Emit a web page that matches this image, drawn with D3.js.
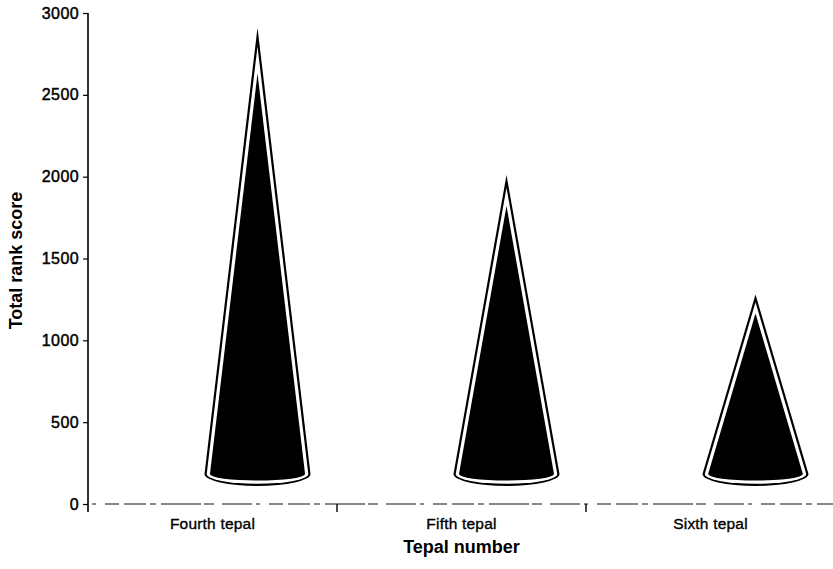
<!DOCTYPE html>
<html>
<head>
<meta charset="utf-8">
<script src="https://cdn.jsdelivr.net/npm/d3@7"></script>
<style>
  html, body { margin: 0; padding: 0; background: #fff; }
  svg { display: block; }
  text { font-family: "Liberation Sans", Arial, sans-serif; fill: #000; }
</style>
</head>
<body>
<svg id="chart" width="833" height="569"></svg>
<script>
// Total rank score for each tepal position
const categories = ["Fourth tepal", "Fifth tepal", "Sixth tepal"];
const totalRankScore = [2910, 2010, 1280];
const yTickValues = [0, 500, 1000, 1500, 2000, 2500, 3000];
const xTitle = "Tepal number";
const yTitle = "Total rank score";

const svg = d3.select("#chart");
const plot = { left: 88, right: 835, top: 13, bottom: 504 };

const x = d3.scaleBand().domain(categories).range([plot.left, plot.right]).padding(0);
const y = d3.scaleLinear().domain([0, 3000]).range([plot.bottom, plot.top]);

// 3D depth shift of the cone floor (up and to the right)
const depthDx = 45, depthDy = -30;
const baseRx = 53, baseRy = 12;

// Y axis
const yAxis = d3.axisLeft(y).tickValues(yTickValues).tickFormat(d3.format("d"))
  .tickSize(5).tickPadding(4).tickSizeOuter(0);
const gy = svg.append("g").attr("transform", `translate(${plot.left},0)`).call(yAxis);
gy.select(".domain").remove();
gy.selectAll("line").attr("stroke", "#000").attr("stroke-width", 1.2);
gy.selectAll("text")
  .attr("font-size", 16).attr("letter-spacing", "0.4px")
  .attr("stroke", "#000").attr("stroke-width", 0.45);
svg.append("line")
  .attr("x1", plot.left).attr("x2", plot.left)
  .attr("y1", plot.top).attr("y2", plot.bottom + 8)
  .attr("stroke", "#000").attr("stroke-width", 1.6);

// X axis (baseline plus category boundary ticks)
svg.append("line")
  .attr("x1", plot.left + 4).attr("x2", plot.right)
  .attr("y1", plot.bottom).attr("y2", plot.bottom)
  .attr("stroke", "#111").attr("stroke-width", 1.1)
  .attr("stroke-dasharray", "4,9,14,5,22,4,6,5,40,3,10,8,30,4");
const boundaries = categories.slice(1).map(c => x(c));
svg.selectAll(".xb").data(boundaries).enter().append("line")
  .attr("x1", d => d).attr("x2", d => d)
  .attr("y1", plot.bottom).attr("y2", plot.bottom + 8)
  .attr("stroke", "#000").attr("stroke-width", 1.4);

svg.selectAll(".xl").data(categories).enter().append("text")
  .attr("x", d => x(d) + x.bandwidth() / 2)
  .attr("y", plot.bottom + 25)
  .attr("text-anchor", "middle")
  .attr("font-size", 15.5)
  .attr("letter-spacing", "0.2px")
  .attr("stroke", "#000").attr("stroke-width", 0.35)
  .text(d => d);

// Axis titles
svg.append("text")
  .attr("x", (plot.left + plot.right) / 2)
  .attr("y", plot.bottom + 49)
  .attr("text-anchor", "middle")
  .attr("font-size", 18).attr("font-weight", "bold")
  .text(xTitle);
svg.append("text")
  .attr("transform", `translate(22,${(plot.top + plot.bottom) / 2 + 2}) rotate(-90)`)
  .attr("text-anchor", "middle")
  .attr("font-size", 18).attr("font-weight", "bold")
  .text(yTitle);

// Cones: outer black outline, white rim, black body, each inset by a
// constant perpendicular distance from the outer silhouette.
function coneLayer(cx, cy, tipY, inset) {
  const h = cy - tipY;
  const alpha = Math.atan(baseRx / h);
  const rx = baseRx - inset / Math.cos(alpha);
  const ry = baseRy - inset;
  const t = tipY + inset / Math.sin(alpha);
  return `M${cx - rx},${cy} L${cx},${t} L${cx + rx},${cy} ` +
         `A${rx},${ry} 0 0 1 ${cx - rx},${cy} Z`;
}
const layers = [
  { inset: 0, fill: "#000" },
  { inset: 2.2, fill: "#fff" },
  { inset: 5.4, fill: "#000" }
];
const cones = svg.append("g");
categories.forEach((c, i) => {
  const cx = x(c) + x.bandwidth() / 2 + depthDx;
  const cy = y(0) + depthDy;
  const tipY = y(totalRankScore[i]);
  layers.forEach(L => {
    cones.append("path")
      .attr("d", coneLayer(cx, cy, tipY, L.inset))
      .attr("fill", L.fill);
  });
});
</script>
</body>
</html>
